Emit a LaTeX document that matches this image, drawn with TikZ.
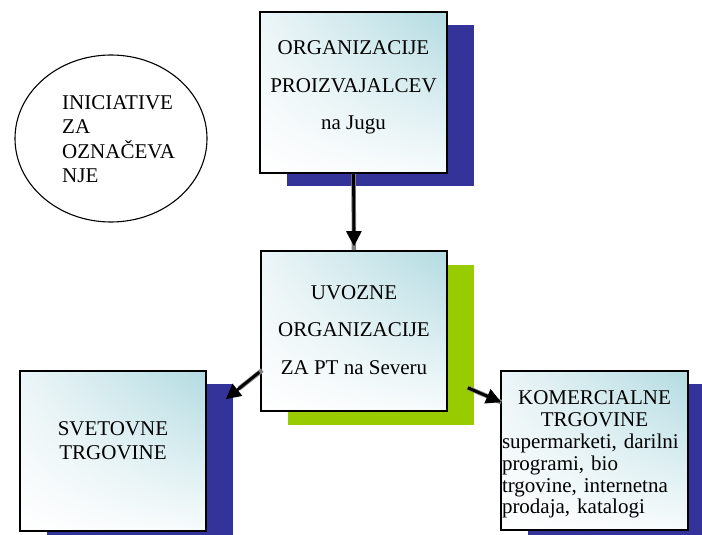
\documentclass[tikz,border=0pt]{standalone}
\usepackage{fontspec}
\setmainfont{Liberation Serif}
\usetikzlibrary{shapes.geometric,shadows,shadings,arrows.meta,calc}
\definecolor{shblue}{RGB}{51,51,153}
\definecolor{shgreen}{RGB}{153,204,0}
\definecolor{tealc}{RGB}{178,219,225}
\definecolor{tealm}{RGB}{236,245,247}
\definecolor{tealw}{RGB}{247,251,252}
\definecolor{arrgray}{RGB}{128,128,128}
\begin{document}
\begin{tikzpicture}[x=1pt,y=-1pt,
  boxnode/.style={draw=black, line width=1.6pt, rectangle, inner sep=0pt,
    upper right=tealc, upper left=tealm, lower right=tealw, lower left=white},
  blueshadow/.style={drop shadow={shadow xshift=26.5pt, shadow yshift=-13pt, fill=shblue, opacity=1}},
  greenshadow/.style={drop shadow={shadow xshift=26.5pt, shadow yshift=-13.5pt, fill=shgreen, opacity=1}},
  boxtext/.style={inner sep=0pt, align=center, font=\fontsize{21pt}{37.5pt}\selectfont},
  smalltext/.style={inner sep=0pt, font=\fontsize{21pt}{24.5pt}\selectfont},
  arrline/.style={line width=2.8pt, black, -{Triangle[width=15pt,length=15pt]}},
  arrshade/.style={line width=4.5pt, arrgray, xshift=1pt}
]
\path[use as bounding box] (0,0) rectangle (702,535);
\clip (0,0) rectangle (702,535);

% Ellipse
\node[ellipse, draw=black, line width=1.1pt, inner sep=0pt, minimum width=192pt, minimum height=167pt] (ini) at (111,138.5) {};
\node[smalltext, align=left, anchor=west] (init) at (62,139) {INICIATIVE\\ZA\\OZNAČEVA\\NJE};

% Top box
\node[boxnode, blueshadow, minimum width=187pt, minimum height=161pt] (org) at (353.5,92.5) {};
\node[boxtext] (orgt) at ($(org.center)+(0,-4.7)$) {ORGANIZACIJE\\PROIZVAJALCEV\\na Jugu};

% Middle box
\node[boxnode, greenshadow, minimum width=186pt, minimum height=160pt] (mid) at (354,331) {};
\node[boxtext] (midt) at ($(mid.center)+(0,-1)$) {UVOZNE\\ORGANIZACIJE\\ZA PT na Severu};

% Left box
\node[boxnode, blueshadow, minimum width=186pt, minimum height=160pt] (sv) at (113,451) {};
\node[smalltext, align=center] (svt) at ($(sv.center)+(0,-10.5)$) {SVETOVNE\\TRGOVINE};

% Right box
\node[boxnode, blueshadow, minimum width=187pt, minimum height=159pt] (kom) at (594.5,450.5) {};
\node[inner sep=0pt, text width=185pt, anchor=north, font=\fontsize{21pt}{21.8pt}\selectfont] (komt) at ($(kom.north)+(0,20.5)$)
  {\centering KOMERCIALNE\\TRGOVINE\par\raggedright supermarketi, darilni\\programi, bio\\trgovine, internetna\\prodaja, katalogi\par};

% Connectors
\coordinate (la1) at ($(mid.north west)+(-1,122)$);
\coordinate (la2) at ($(sv.north east)+(19,29)$);
\coordinate (ra1) at ($(mid.south east)+(20,-24)$);
\coordinate (ra2) at ($(kom.north west)+(1,32)$);

\draw[arrshade] (org.south) -- (mid.north);
\draw[arrline, shorten >=4pt] (org.south) -- (mid.north);

\draw[arrshade, xshift=-1pt, yshift=-1pt] ($(la1)+(3,-2)$) -- ($(la1)!0.6!(la2)$);
\draw[arrline] (la1) -- (la2);

\draw[arrshade, xshift=-1pt, yshift=-1pt] (ra1) -- (ra2);
\draw[arrline] (ra1) -- (ra2);
\end{tikzpicture}
\end{document}
